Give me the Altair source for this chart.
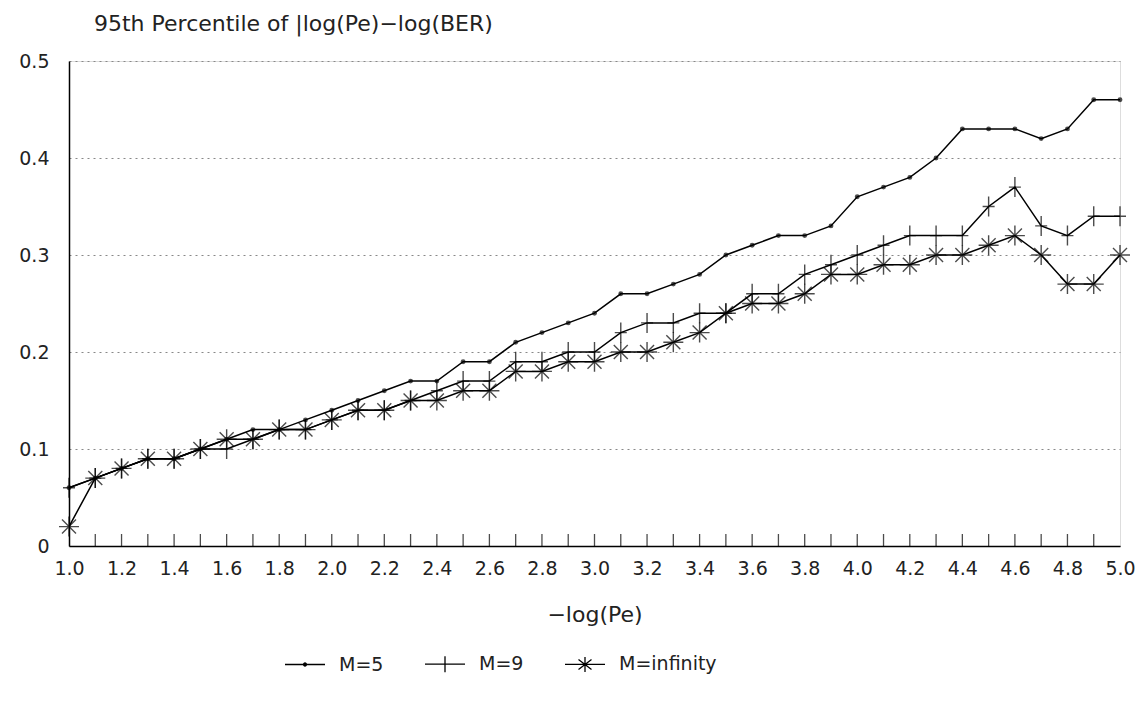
import altair as alt
import pandas as pd

x_vals = [round(1.0 + 0.1 * i, 1) for i in range(41)]

m5 = [0.06, 0.07, 0.08, 0.09, 0.09, 0.10, 0.11, 0.12, 0.12, 0.13,
      0.14, 0.15, 0.16, 0.17, 0.17, 0.19, 0.19, 0.21, 0.22, 0.23,
      0.24, 0.26, 0.26, 0.27, 0.28, 0.30, 0.31, 0.32, 0.32, 0.33,
      0.36, 0.37, 0.38, 0.40, 0.43, 0.43, 0.43, 0.42, 0.43, 0.46, 0.46]

m9 = [0.06, 0.07, 0.08, 0.09, 0.09, 0.10, 0.10, 0.11, 0.12, 0.12,
      0.13, 0.14, 0.14, 0.15, 0.16, 0.17, 0.17, 0.19, 0.19, 0.20,
      0.20, 0.22, 0.23, 0.23, 0.24, 0.24, 0.26, 0.26, 0.28, 0.29,
      0.30, 0.31, 0.32, 0.32, 0.32, 0.35, 0.37, 0.33, 0.32, 0.34, 0.34]

minf = [0.02, 0.07, 0.08, 0.09, 0.09, 0.10, 0.11, 0.11, 0.12, 0.12,
        0.13, 0.14, 0.14, 0.15, 0.15, 0.16, 0.16, 0.18, 0.18, 0.19,
        0.19, 0.20, 0.20, 0.21, 0.22, 0.24, 0.25, 0.25, 0.26, 0.28,
        0.28, 0.29, 0.29, 0.30, 0.30, 0.31, 0.32, 0.30, 0.27, 0.27, 0.30]

series_names = ["M=5", "M=9", "M=infinity"]
x_label_values = [round(1.0 + 0.2 * i, 1) for i in range(21)]
y_label_values = [0, 0.1, 0.2, 0.3, 0.4, 0.5]
minor_ticks = x_vals[1:-1]

rows = []
for name, vals in zip(series_names, [m5, m9, minf]):
    for xv, yv in zip(x_vals, vals):
        rows.append({"x": xv, "y": yv, "series": name})
df = pd.DataFrame(rows)
ticks_df = pd.DataFrame({"tx": minor_ticks})

FONT = "DejaVu Sans"
TXT = "#222"
W, H = 1051, 485

x_scale = alt.Scale(domain=[1.0, 5.0], nice=False, zero=False)
y_scale = alt.Scale(domain=[0, 0.5], nice=False)

plot_shapes = [
    "circle",
    "M0,-1L0,1M-0.6,0L0.6,0",
    "M0,-1L0,1M-1,0L1,0M-0.7,-0.7L0.7,0.7M-0.7,0.7L0.7,-0.7",
]
legend_shapes = [
    "M-2,0L2,0M-0.15,0A0.15,0.15,0,1,0,0.15,0A0.15,0.15,0,1,0,-0.15,0",
    "M-2,0L2,0M0,-0.8L0,0.8",
    "M-2,0L2,0M0,-0.75L0,0.75M-0.65,-0.5L0.65,0.5M-0.65,0.5L0.65,-0.5",
]

base = alt.Chart(df)

lines = base.mark_line(color="black", strokeWidth=1.5).encode(
    x=alt.X("x:Q", scale=x_scale,
            axis=alt.Axis(values=x_label_values, labelExpr="format(datum.value, '.1f')",
                          title="−log(Pe)", tickSize=0, labelPadding=13, titlePadding=26,
                          labelFlush=False, grid=False, domain=True, domainColor="black",
                          domainWidth=1.5, labelFontSize=19, titleFontSize=22,
                          labelFont=FONT, titleFont=FONT, titleFontWeight="normal",
                          labelColor=TXT, titleColor=TXT)),
    y=alt.Y("y:Q", scale=y_scale,
            axis=alt.Axis(values=y_label_values,
                          labelExpr="datum.value == 0 ? '0' : format(datum.value, '.1f')",
                          title=None, ticks=False, labelPadding=20, grid=True,
                          gridDash=[2, 4], gridColor="#888", gridWidth=1,
                          domain=True, domainColor="black", domainWidth=1.5,
                          labelFontSize=19, labelFont=FONT, labelColor=TXT)),
    detail="series:N",
)

points_small = base.transform_filter(alt.datum.series == "M=5").mark_point(
    filled=True, color="black", size=24
).encode(x=alt.X("x:Q", scale=x_scale), y=alt.Y("y:Q", scale=y_scale))

points = base.transform_filter(alt.datum.series != "M=5").mark_point(
    filled=False, color="black", strokeWidth=1.4, size=400
).encode(
    x=alt.X("x:Q", scale=x_scale),
    y=alt.Y("y:Q", scale=y_scale),
    shape=alt.Shape("series:N", scale=alt.Scale(domain=series_names, range=plot_shapes), legend=None),
)

legend_layer = base.transform_filter("false").mark_point(color="black").encode(
    x=alt.X("x:Q", scale=x_scale),
    y=alt.Y("y:Q", scale=y_scale),
    shape=alt.Shape(
        "series:N",
        scale=alt.Scale(domain=series_names, range=legend_shapes),
        legend=alt.Legend(
            title=None, orient="none", direction="horizontal", legendX=225, legendY=592,
            symbolSize=400, symbolFillColor="black", symbolStrokeColor="black",
            symbolStrokeWidth=1.3, labelFontSize=19, labelFont=FONT, labelColor=TXT,
            labelOffset=23, columnPadding=38, symbolOpacity=1,
        ),
    ),
)

tick_marks = alt.Chart(ticks_df).mark_tick(
    color="black", thickness=1.3, size=12, orient="vertical", yOffset=-6
).encode(
    x=alt.X("tx:Q", scale=x_scale),
    y=alt.datum(0, scale=y_scale),
)

chart = alt.layer(lines, points_small, points, tick_marks, legend_layer).resolve_scale(
    shape="independent"
).properties(
    width=W,
    height=H,
    padding={"left": 10, "top": 5, "right": 0, "bottom": 5},
    title=alt.TitleParams(
        "95th Percentile of |log(Pe)−log(BER)", anchor="start", frame="group", dx=25,
        fontSize=22, font=FONT, fontWeight="normal", color=TXT, offset=16,
    ),
).configure_view(stroke="black", strokeWidth=1.5).configure(background="white")

chart.save("out.html", embed_options={"renderer": "svg", "actions": False})
